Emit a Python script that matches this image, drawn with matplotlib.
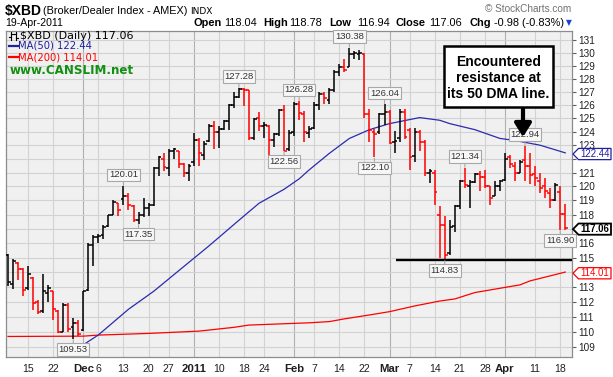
"""$XBD daily bar chart (Nov 2010 - Apr 2011) in the StockCharts style."""
import matplotlib
matplotlib.use("Agg")
import matplotlib.pyplot as plt
from matplotlib.ticker import NullLocator
from matplotlib.patches import Polygon, Rectangle
import numpy as np

plt.rcParams["font.family"] = ["Liberation Sans", "DejaVu Sans"]

# ---- data (one bar per trading day, Nov 9 2010 .. Apr 19 2011) ----
opens = [115.2, 113.2, 114.6, 114.2, 112.9, 113.6, 112.0, 111.4, 112.6, 112.7,
         111.4, 110.0, 111.8, 110.3, 110.6, 110.1, 112.8, 115.9, 116.4, 116.6,
         117.2, 118.0, 118.8, 119.1, 119.3, 118.6, 117.6, 118.0, 118.5, 118.7,
         121.3, 122.0, 121.3, 122.6, 122.6, 121.6, 121.0, 121.8, 123.4, 122.3,
         123.3, 124.4, 124.0, 124.2, 124.8, 126.0, 126.6, 127.2, 127.1, 123.5,
         125.0, 124.4, 124.4, 123.4, 123.8, 125.6, 122.7, 124.0, 126.1, 125.3,
         123.9, 124.3, 126.0, 126.8, 126.4, 127.1, 128.5, 128.9, 128.9, 129.9,
         129.9, 129.9, 125.3, 124.0, 124.0, 125.3, 125.5, 123.2, 123.5, 125.5,
         124.1, 122.2, 124.0, 123.2, 121.0, 121.0, 118.0, 117.3, 115.3, 117.2,
         118.6, 120.4, 120.0, 120.3, 120.9, 120.7, 120.0, 119.3, 120.0, 120.5,
         122.1, 121.5, 121.0, 121.9, 121.5, 120.9, 120.4, 120.0, 119.5, 119.0,
         119.6, 118.04]
highs = [115.25, 114.9, 114.7, 114.3, 114.45, 113.65, 112.1, 113.9, 113.15, 112.75,
         111.45, 111.9, 111.9, 110.9, 110.8, 112.75, 116.0, 116.6, 116.65, 117.3,
         118.0, 119.0, 118.85, 120.01, 119.55, 118.7, 118.15, 119.2, 118.8, 121.4,
         122.2, 122.45, 122.7, 122.8, 122.6, 121.7, 121.6, 123.9, 123.5, 123.3,
         124.6, 124.8, 124.4, 124.9, 126.05, 127.0, 127.28, 127.25, 127.15, 125.05,
         125.5, 124.7, 124.5, 123.9, 125.7, 126.0, 124.1, 126.2, 126.28, 125.55,
         124.4, 126.2, 126.95, 126.95, 127.3, 128.7, 129.1, 129.5, 130.38, 130.1,
         130.2, 129.95, 125.7, 124.2, 125.4, 126.04, 125.6, 124.05, 125.7, 125.7,
         124.3, 124.3, 124.1, 123.4, 121.25, 121.2, 118.6, 117.9, 117.65, 118.7,
         120.5, 121.34, 120.5, 121.0, 121.1, 121.2, 120.0, 120.4, 120.5, 122.4,
         122.3, 121.8, 121.95, 122.94, 122.4, 121.45, 121.0, 120.6, 119.9, 120.25,
         120.0, 118.78]
lows = [113.05, 112.85, 113.5, 112.4, 112.8, 111.45, 111.2, 111.25, 112.0, 110.8,
        109.95, 110.0, 110.0, 109.53, 109.7, 110.05, 112.75, 114.4, 116.0, 116.3,
        117.1, 118.0, 117.9, 118.7, 118.35, 117.45, 117.35, 117.8, 117.9, 118.6,
        120.75, 121.1, 120.75, 122.0, 121.3, 120.7, 120.4, 121.5, 121.5, 121.9,
        123.2, 122.7, 122.8, 124.1, 124.15, 125.8, 126.5, 125.9, 123.4, 123.4,
        124.05, 123.5, 122.2, 122.9, 123.7, 122.56, 122.6, 123.7, 124.9, 123.2,
        123.5, 124.2, 125.65, 126.05, 126.05, 127.0, 128.2, 128.5, 128.9, 129.5,
        129.4, 125.05, 123.2, 122.10, 123.8, 124.5, 123.1, 122.4, 123.2, 123.45,
        121.2, 121.8, 122.6, 120.75, 120.25, 118.7, 115.0, 114.83, 115.2, 116.8,
        118.4, 119.9, 118.45, 120.25, 119.65, 119.9, 118.7, 119.3, 119.65, 120.4,
        121.3, 120.4, 120.95, 120.4, 120.15, 120.0, 119.55, 119.2, 118.45, 118.95,
        116.90, 116.94]
closes = [113.3, 114.75, 114.2, 112.8, 113.85, 111.9, 111.3, 112.7, 112.9, 111.5,
          110.0, 111.8, 110.2, 110.6, 109.85, 112.7, 115.9, 116.4, 116.5, 117.1,
          117.95, 118.9, 118.3, 119.3, 118.65, 117.6, 118.0, 118.5, 118.7, 121.3,
          122.1, 121.4, 122.6, 122.7, 121.6, 121.0, 121.5, 123.4, 122.4, 123.1,
          124.4, 124.0, 124.2, 124.8, 126.0, 126.6, 127.2, 127.1, 123.5, 124.95,
          124.4, 124.5, 123.4, 123.8, 125.65, 122.6, 123.9, 126.1, 125.4, 124.0,
          124.2, 126.0, 126.8, 126.5, 127.1, 128.5, 128.9, 128.7, 129.9, 129.95,
          130.0, 125.3, 124.1, 123.85, 125.3, 125.5, 123.15, 123.3, 125.5, 123.6,
          122.1, 124.0, 123.2, 121.0, 121.1, 119.6, 117.3, 115.2, 117.1, 118.6,
          120.4, 120.1, 120.3, 120.9, 120.7, 120.0, 119.2, 120.0, 120.4, 122.0,
          121.6, 121.0, 121.8, 121.5, 120.8, 120.6, 119.9, 119.7, 119.0, 120.1,
          118.04, 117.06]

# moving averages at these bar numbers
ma50_idx = [9, 11, 18, 24, 29, 34, 40, 46, 48, 50, 55, 58, 60, 64, 68, 72,
            76, 82, 86, 88, 93, 98, 101, 106, 111]
ma50_val = [107.9, 108.3, 109.8, 111.5, 112.7, 114.1, 115.8, 117.6, 118.2, 118.8,
            119.8, 120.55, 121.2, 122.4, 123.5, 124.15, 124.6, 125.05, 124.85,
            124.6, 124.15, 123.5, 123.35, 123.0, 122.44]
ma200_idx = [0, 15, 18, 28, 38, 45, 48, 60, 64, 67, 72, 76, 81, 86, 89, 93,
             98, 102, 104, 108, 111]
ma200_val = [109.7, 109.72, 109.79, 109.9, 110.05, 110.3, 110.45, 110.6, 110.68,
             110.86, 111.12, 111.34, 111.72, 112.05, 112.19, 112.62, 112.91,
             113.14, 113.41, 113.75, 114.01]

xtick_pos = [4, 9, 15, 18, 23, 28, 32, 37, 42, 47, 51, 57, 61, 66, 71, 76, 80,
             85, 90, 95, 99, 105, 110]
xtick_lab = ["15", "22", "Dec", "6", "13", "20", "27", "2011", "10", "18", "24",
             "Feb", "7", "14", "22", "Mar", "7", "14", "21", "28", "Apr", "11", "18"]
month_lab = {"Dec", "2011", "Feb", "Mar", "Apr"}

hi_marks = [23, 46, 58, 68, 75, 91, 103]   # bars with a high label
lo_marks = [13, 26, 55, 73, 87, 110]       # bars with a low label
support_bar = 87                           # the March low the black line sits on

price_ticks = list(range(109, 132))

W, H = 613, 377
fig = plt.figure(figsize=(W / 100, H / 100), dpi=100)
fig.patch.set_facecolor("white")
ax = fig.add_axes([6 / W, (H - 357) / H, (572 - 6) / W, (357 - 31) / H])
ax.set_facecolor("#f0f0f0")

n = len(closes)
x = np.arange(n)
cols = ["black"] + ["#ff0000" if closes[i] < closes[i - 1] else "black" for i in range(1, n)]

# the value tags on the right cover the tick label they sit on
tags = [(ma50_val[-1], "#2020a0", False), (closes[-1], "black", True),
        (ma200_val[-1], "#ff0000", False)]
hidden = {round(v) for v, _, _ in tags}

ax.set_yscale("log")
ax.set_ylim(108.36, 131.70)
ax.set_xlim(-0.4, 112.35)
ax.yaxis.set_minor_locator(NullLocator())
ax.set_yticks(price_ticks)
ax.set_yticklabels(["" if t in hidden else str(t) for t in price_ticks])
ax.yaxis.tick_right()
ax.tick_params(axis="y", length=3, width=0.8, color="#606060", pad=1.5,
               labelsize=7.2, labelcolor="#202020")
ax.grid(axis="y", color="#d2d2d2", lw=0.8)
for p, lab in zip(xtick_pos, xtick_lab):
    ax.axvline(p, color="#b0b0b0" if lab in month_lab else "#d2d2d2", lw=0.8, zorder=0.5)
ax.set_axisbelow(True)
ax.set_xticks(xtick_pos)
ax.set_xticklabels(xtick_lab)
ax.tick_params(axis="x", length=0, pad=5, labelsize=7.6, labelcolor="#202020")
for t in ax.get_xticklabels():
    if t.get_text() in month_lab:
        t.set_fontweight("bold")
        t.set_fontsize(8.2)
for s in ax.spines.values():
    s.set_color("#8c8c8c")
    s.set_linewidth(0.9)

# moving averages
ax.plot(ma200_idx, ma200_val, color="#ff0000", lw=0.9, zorder=2)
ax.plot(ma50_idx, ma50_val, color="#2b2bb0", lw=0.9, zorder=2)

# OHLC bars
ax.vlines(x, lows, highs, colors=cols, lw=1.1, zorder=3)
ax.hlines(opens, x - 0.55, x, colors=cols, lw=1.1, zorder=3)
ax.hlines(closes, x, x + 0.55, colors=cols, lw=1.1, zorder=3)

# support line at the March low
ax.hlines(lows[support_bar], 77.3, 112.35, colors="black", lw=1.7, zorder=4)

# high / low labels
box = dict(boxstyle="square,pad=0.18", fc="#f7f7f7", ec="#a8a8a8", lw=0.8)
for i in hi_marks:
    ax.annotate(f"{highs[i]:.2f}", xy=(i, highs[i]), xytext=(0, 8.2),
                textcoords="offset points", ha="center", va="center",
                fontsize=6.8, color="#333333", bbox=box, zorder=6,
                arrowprops=dict(arrowstyle="-", color="#a8a8a8", lw=0.8,
                                shrinkA=0, shrinkB=0.5))
for i in lo_marks:
    ax.annotate(f"{lows[i]:.2f}", xy=(i, lows[i]), xytext=(0, -7.5),
                textcoords="offset points", ha="center", va="center",
                fontsize=6.8, color="#333333", bbox=box, zorder=6,
                arrowprops=dict(arrowstyle="-", color="#a8a8a8", lw=0.8,
                                shrinkA=0, shrinkB=0.5))

# ---- figure-level text, positions in reference pixels ----
def fx(px):
    return px / W


def fy(py):
    return 1 - py / H


fig.text(fx(5), fy(14.5), "$XBD", fontsize=10, fontweight="bold", va="baseline")
fig.text(fx(43), fy(14), "(Broker/Dealer Index - AMEX)", fontsize=7.8, va="baseline")
fig.text(fx(190), fy(13.5), "INDX", fontsize=6.5, family="DejaVu Sans", va="baseline")
fig.text(fx(571), fy(12), "\u00a9 StockCharts.com", fontsize=7.2, color="#707070",
         ha="right", va="baseline")
fig.text(fx(5), fy(26), "19-Apr-2011", fontsize=7.6, va="baseline")
hdr = [(193, "Open", True), (224, f"{opens[-1]:.2f}", False),
       (263, "High", True), (289, f"{highs[-1]:.2f}", False),
       (329, "Low", True), (357, f"{lows[-1]:.2f}", False),
       (396, "Close", True), (429, f"{closes[-1]:.2f}", False),
       (470, "Chg", True),
       (494, f"{closes[-1] - closes[-2]:.2f} ({(closes[-1] / closes[-2] - 1) * 100:.2f}%)", False)]
for px, s, b in hdr:
    fig.text(fx(px), fy(26), s, fontsize=7.9, fontweight="bold" if b else "normal",
             va="baseline")
fig.text(fx(566), fy(25), "\u25bc", fontsize=5.5, color="#1a3fd6", family="DejaVu Sans",
         va="baseline")

# legend inside the plot
for bx, o, c in [(10.5, 37, 33.5), (15.5, 34, 38)]:
    fig.add_artist(plt.Line2D([fx(bx), fx(bx)], [fy(32), fy(40)], color="black", lw=0.8))
    fig.add_artist(plt.Line2D([fx(bx - 2), fx(bx)], [fy(o), fy(o)], color="black", lw=0.8))
    fig.add_artist(plt.Line2D([fx(bx), fx(bx + 2)], [fy(c), fy(c)], color="black", lw=0.8))
fig.text(fx(20.5), fy(36), f"$XBD (Daily) {closes[-1]:.2f}", fontsize=8.0,
         family="DejaVu Sans", va="center")
fig.add_artist(plt.Line2D([fx(9), fx(17.5)], [fy(45.7), fy(45.7)], color="#2020a0", lw=1.6))
fig.text(fx(18.5), fy(46), f"MA(50) {ma50_val[-1]:.2f}", fontsize=7.2,
         family="DejaVu Sans", color="#2020a0", va="center")
fig.add_artist(plt.Line2D([fx(9), fx(17.5)], [fy(56.7), fy(56.7)], color="#ff0000", lw=1.6))
fig.text(fx(18.5), fy(57), f"MA(200) {ma200_val[-1]:.2f}", fontsize=7.2,
         family="DejaVu Sans", color="#ff0000", va="center")
fig.text(fx(10), fy(71), "www.CANSLIM.net", fontsize=8.6, fontweight="bold",
         family="DejaVu Sans", color="#129012", va="center")

# the comment box and its arrow
fig.add_artist(Rectangle((fx(444), fy(107)), fx(553) - fx(444), fy(46) - fy(107),
                         transform=fig.transFigure, fc="white", ec="black", lw=1.8))
for ty, s in [(62, "Encountered"), (78, "resistance at"), (94, "its 50 DMA line.")]:
    fig.text(fx(498.5), fy(ty), s, fontsize=10, fontweight="bold", ha="center", va="center")
ax.annotate("", xy=(523, H - 137), xytext=(523, H - 107.5), xycoords="figure pixels",
            textcoords="figure pixels",
            arrowprops=dict(arrowstyle="-|>,head_width=0.5,head_length=0.8",
                            lw=3, color="black", shrinkA=0, shrinkB=0), zorder=7)

# value tags on the right axis
for val, col, bold in tags:
    yd = ax.transData.transform((0, val))[1]
    y_px = H - yd + 1.2
    pts = [(573, y_px), (578.5, y_px - 5.6), (611, y_px - 5.6), (611, y_px + 5.6),
           (578.5, y_px + 5.6)]
    fig.add_artist(Polygon([(fx(a), fy(b)) for a, b in pts], closed=True,
                           transform=fig.transFigure, fc="white", ec=col,
                           lw=1.3 if bold else 0.9))
    fig.text(fx(595), fy(y_px), f"{val:.2f}", fontsize=6.9, color=col, ha="center",
             va="center", fontweight="bold" if bold else "normal")

fig.savefig("out.png", dpi=100)
print("wrote out.png")
